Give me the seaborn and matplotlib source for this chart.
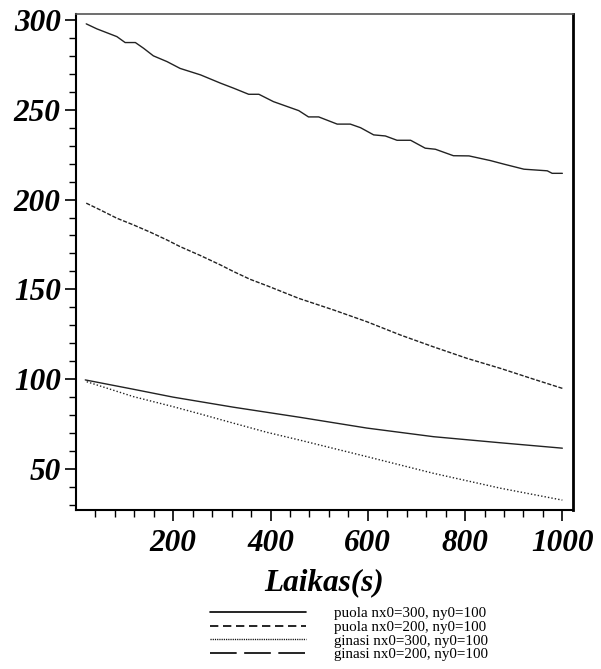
import numpy as np
import pandas as pd
import seaborn as sns
import matplotlib
matplotlib.use("Agg")
import matplotlib.pyplot as plt
from matplotlib.ticker import FixedLocator
from matplotlib.lines import Line2D

# Curves
t_top = [21, 43, 84, 101, 122, 139, 159, 187, 214, 256, 297, 324, 355, 376, 406, 458,
         478, 499, 537, 564, 585, 612, 636, 660, 688, 718, 739, 776, 808, 852, 880,
         921, 969, 979, 1000]
v_top = [297.8, 295.0, 290.7, 287.4, 287.4, 284.2, 280.0, 276.8, 273.0, 269.4, 264.8,
         262.0, 258.6, 258.6, 254.5, 249.5, 246.0, 246.0, 242.0, 242.0, 240.0, 236.0,
         235.4, 233.0, 233.0, 228.6, 228.0, 224.4, 224.3, 221.7, 219.7, 216.9, 216.0,
         214.6, 214.6]

t_mid = [21, 50, 84, 118, 153, 187, 214, 256, 297, 324, 358, 393, 458, 530, 598, 667,
         735, 804, 873, 941, 1000]
v_mid = [198.0, 194.2, 189.6, 185.9, 181.8, 177.5, 173.8, 168.8, 163.6, 159.9, 155.6,
         152.0, 145.0, 138.5, 132.0, 124.6, 118.0, 111.6, 106.0, 100.0, 94.9]

t_low = [19, 118, 200, 324, 460, 598, 735, 873, 1000]
v_low = [99.6, 94.4, 90.0, 84.4, 78.8, 72.8, 68.0, 64.6, 61.6]

t_dot = [22, 118, 200, 256, 324, 393, 460, 598, 735, 873, 1000]
v_dot = [98.6, 90.3, 84.7, 80.6, 75.5, 70.4, 66.1, 56.9, 47.6, 39.3, 32.7]

x_ticks = [200, 400, 600, 800, 1000]
y_ticks = [50, 100, 150, 200, 250, 300]

legend_labels = ["puola nx0=300, ny0=100", "puola nx0=200, ny0=100",
                 "ginasi nx0=300, ny0=100", "ginasi nx0=200, ny0=100"]

sns.set_style("ticks")
plt.rcParams["font.family"] = ["Liberation Serif", "DejaVu Serif"]
plt.rcParams["text.color"] = "black"
plt.rcParams["xtick.color"] = "black"
plt.rcParams["ytick.color"] = "black"

fig = plt.figure(figsize=(6.01, 6.69), dpi=100)
ax = fig.add_axes([0.1265, 0.2377, 0.827, 0.7414])

lc = "#222222"
sns.lineplot(x=t_top, y=v_top, ax=ax, color=lc, lw=1.0)
sns.lineplot(x=t_mid, y=v_mid, ax=ax, color=lc, lw=1.0, linestyle=(0, (3, 1.2)))
sns.lineplot(x=t_low, y=v_low, ax=ax, color=lc, lw=1.0)
sns.lineplot(x=t_dot, y=v_dot, ax=ax, color=lc, lw=1.0, linestyle=(0, (1, 1.5)))

ax.set_xlim(0, 1022)
ax.set_ylim(27.2, 303.3)
ax.xaxis.set_major_locator(FixedLocator(x_ticks))
ax.xaxis.set_minor_locator(FixedLocator(list(range(40, 1001, 40))))
ax.yaxis.set_major_locator(FixedLocator(y_ticks))
ax.yaxis.set_minor_locator(FixedLocator(list(range(30, 301, 10))))

tick_font = dict(family="Liberation Serif", weight="bold", style="italic", size=22.5,
                 color="black")
ax.set_xticklabels([str(v) for v in x_ticks], fontdict=tick_font)
ax.set_yticklabels([str(v) for v in y_ticks], fontdict=tick_font)
ax.tick_params(axis="both", which="major", direction="out", length=8, width=1.2, color="black")
ax.tick_params(axis="both", which="minor", direction="out", length=5, width=1.0, color="black")
ax.tick_params(axis="x", which="major", pad=6)
ax.tick_params(axis="y", which="major", pad=3)

ax.set_xlabel("Laikas(s)", fontdict=tick_font, labelpad=7)
ax.set_ylabel("")

for side in ["left", "bottom", "right"]:
    ax.spines[side].set_color("black")
    ax.spines[side].set_linewidth(1.5)
ax.spines["top"].set_color("#555555")
ax.spines["top"].set_linewidth(1.2)
ax.spines["right"].set_linewidth(2.0)

handles = [
    Line2D([], [], color="black", lw=1.2),
    Line2D([], [], color="black", lw=1.2, linestyle=(0, (5, 2.8))),
    Line2D([], [], color="black", lw=1.0, linestyle=(0, (0.8, 0.8))),
    Line2D([], [], color="black", lw=1.2, linestyle=(0, (16, 4.5))),
]
fig.legend(handles, legend_labels, loc="upper left",
           bbox_to_anchor=(210 / 601, 1 - 607 / 669), frameon=False,
           fontsize=10.8, handlelength=6.4, handletextpad=1.9,
           labelspacing=0.0, borderpad=0, borderaxespad=0)

fig.savefig("out.png", dpi=100)
